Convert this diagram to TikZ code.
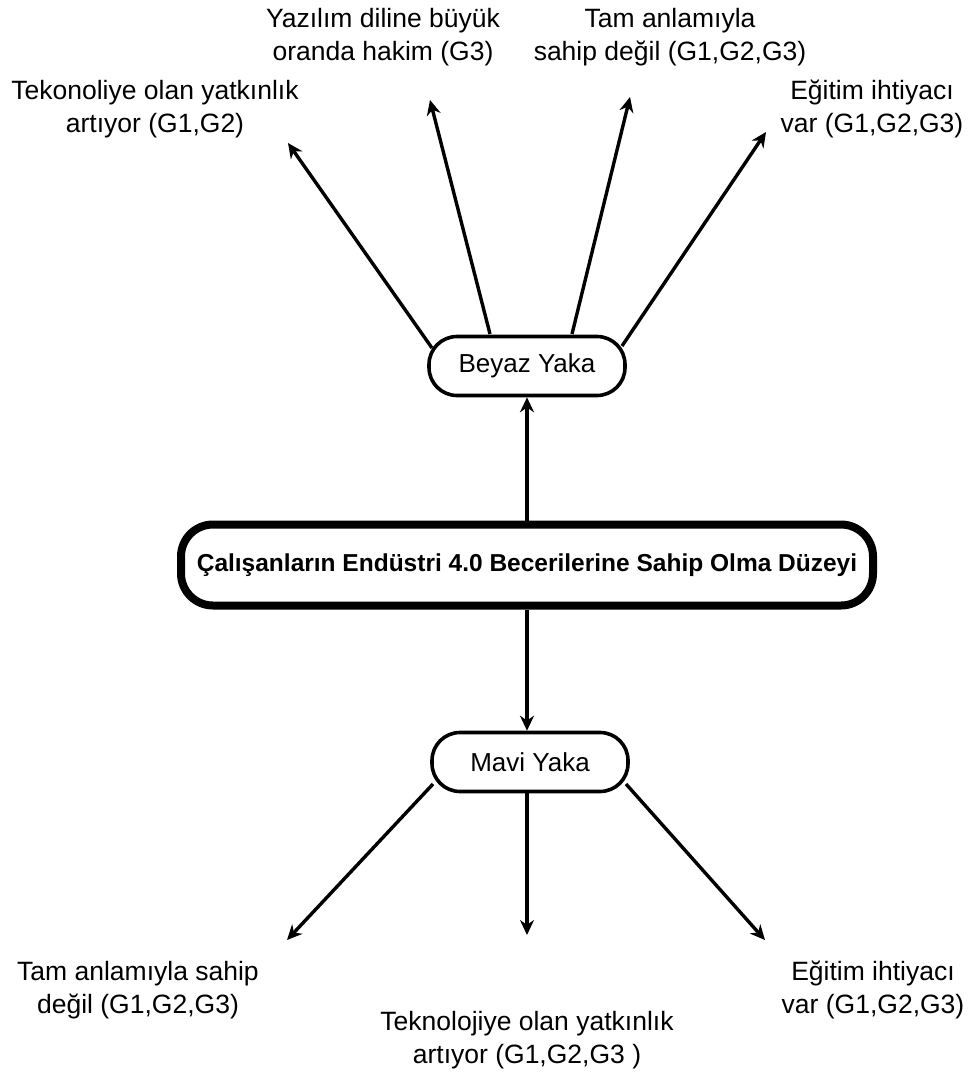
\documentclass[tikz,border=0pt]{standalone}
\usepackage{fontspec}
\setmainfont{Liberation Sans}
\usetikzlibrary{arrows.meta,calc}

\tikzset{
  every picture/.style={x=1pt,y=-1pt},
  mainbox/.style={draw,line width=8pt,rounded corners=32pt,minimum width=692pt,
    minimum height=81pt,inner sep=0pt,font=\fontsize{24.5}{30}\selectfont\bfseries},
  groupbox/.style={draw,line width=3.6pt,rounded corners=28pt,minimum width=196pt,
    minimum height=59pt,inner sep=0pt,font=\fontsize{26}{32}\selectfont},
  lbl/.style={align=center,inner sep=0pt,font=\fontsize{26.5}{32.5}\selectfont},
  arr/.style={line width=3.4pt,-{Stealth[length=15pt,width=14pt]}},
}

\begin{document}
\begin{tikzpicture}
\useasboundingbox (0,0) rectangle (976,1084);

% central topic and the two groups
\node[mainbox]  (main) at (527,565) {Çalışanların Endüstri 4.0 Becerilerine Sahip Olma Düzeyi};
\node[groupbox] (by)   at (527,366) {Beyaz Yaka};
\node[groupbox] (mv)   at (530,762) {Mavi Yaka};

% findings for white-collar staff
\node[lbl] (l1) at (155,109) {Tekonoliye olan yatkınlık\\artıyor (G1,G2)};
\node[lbl] (l2) at (383,37)  {Yazılım diline büyük\\oranda hakim (G3)};
\node[lbl] (l3) at (670,37)  {Tam anlamıyla\\sahip değil (G1,G2,G3)};
\node[lbl] (l4) at (872,109) {Eğitim ihtiyacı\\var (G1,G2,G3)};

% findings for blue-collar staff
\node[lbl] (l5) at (138,990)  {Tam anlamıyla sahip\\değil (G1,G2,G3)};
\node[lbl] (l6) at (527,1040) {Teknolojiye olan yatkınlık\\artıyor (G1,G2,G3 )};
\node[lbl] (l7) at (873,990)  {Eğitim ihtiyacı\\var (G1,G2,G3)};

% start points on the group boxes
\coordinate (b1) at ($(by.center)+(-95,-18)$);
\coordinate (b2) at ($(by.center)+(-37,-32)$);
\coordinate (b3) at ($(by.center)+(45,-32)$);
\coordinate (b4) at ($(by.center)+(95,-20)$);
\coordinate (m1) at ($(mv.center)+(-97,22)$);
\coordinate (m3) at ($(mv.center)+(96,22)$);

% arrow tips under / beside the labels
\coordinate (t1) at (288,143);
\coordinate (t2) at (430,100);
\coordinate (t3) at (630,97);
\coordinate (t4) at (766,132);
\coordinate (t5) at (287,940);
\coordinate (t6) at (527,935);
\coordinate (t7) at (765,940);

% connectors
\draw[arr] (main.north -| by) -- (by.south);
\draw[arr] (main.south -| t6) -- (mv.north -| t6);

\draw[arr] (b1) -- (t1);
\draw[arr] (b2) -- (t2);
\draw[arr] (b3) -- (t3);
\draw[arr] (b4) -- (t4);

\draw[arr] (m1) -- (t5);
\draw[arr] (mv.south -| t6) -- (t6);
\draw[arr] (m3) -- (t7);
\end{tikzpicture}
\end{document}
